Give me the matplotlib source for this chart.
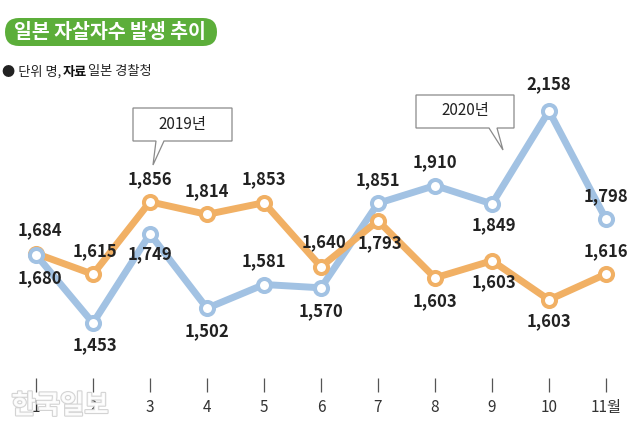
import matplotlib
matplotlib.use("Agg")
import matplotlib.pyplot as plt
from matplotlib.patches import FancyBboxPatch, Polygon
import matplotlib.patheffects as pe

plt.rcParams['font.family'] = ['Noto Sans CJK KR', 'DejaVu Sans']

# ---- data ----
months = [1, 2, 3, 4, 5, 6, 7, 8, 9, 10, 11]
tick_labels = ['1', '2', '3', '4', '5', '6', '7', '8', '9', '10', '11월']
values_2019 = [1684, 1615, 1856, 1814, 1853, 1640, 1793, 1603, 1660, 1530, 1616]
labels_2019 = ['1,684', '1,615', '1,856', '1,814', '1,853', '1,640', '1,793',
               '1,603', '1,603', '1,603', '1,616']
values_2020 = [1680, 1453, 1749, 1502, 1581, 1570, 1851, 1910, 1849, 2158, 1798]
labels_2020 = ['1,680', '1,453', '1,749', '1,502', '1,581', '1,570', '1,851',
               '1,910', '1,849', '2,158', '1,798']

title = '일본 자살자수 발생 추이'
series_names = ['2019년', '2020년']

# ---- layout (label offsets in pixels) ----
off_2019 = [(4, 23), (2, 23), (0, 23), (0, 23), (0, 23), (3, 25), (2, -22),
            (0, -23), (2, -21), (0, -21), (0, 23)]
off_2020 = [(4, -23), (2, -22), (0, -20), (0, -23), (0, 23), (0, -23), (0, 23),
            (0, 23), (2, -21), (0, 27), (0, 23)]

ORANGE = '#F1B064'
BLUE = '#A2C2E3'
GREEN = '#5CAE3A'

W, H = 640, 434
fig = plt.figure(figsize=(W / 100, H / 100), dpi=100)
fig.patch.set_facecolor('white')

tick_px = 384.5
ax = fig.add_axes([0, (H - tick_px) / H, 1, tick_px / H])
ax.set_facecolor('none')
px_per_unit = 3.325
ax.set_ylim(1453 - (tick_px - 323) * px_per_unit, 1453 + 323 * px_per_unit)
ax.set_xlim(1 - 36 / 57, 11 + 34 / 57)
for s in ax.spines.values():
    s.set_visible(False)
ax.set_yticks([])
ax.set_xticks(months)
ax.set_xticklabels(tick_labels)
ax.tick_params(axis='x', direction='inout', length=9.4, width=0.9, color='#555555',
               pad=6, labelsize=11, labelcolor='#333333')

lw = 5
ms = 9.4
mew = 2.9
ax.plot(months, values_2020, color=BLUE, lw=lw, zorder=2, solid_joinstyle='round')
ax.plot(months, values_2019, color=ORANGE, lw=lw, zorder=3, solid_joinstyle='round')
ax.plot(months, values_2019, ls='none', marker='o', ms=ms, mfc='white', mec=ORANGE,
        mew=mew, zorder=4)
ax.plot(months, values_2020, ls='none', marker='o', ms=ms, mfc='white', mec=BLUE,
        mew=mew, zorder=5)

for x, v, t, (dx, dy) in zip(months, values_2019, labels_2019, off_2019):
    ax.annotate(t, (x, v), xytext=(dx, dy), textcoords='offset pixels', ha='center',
                va='center', fontsize=12, fontweight='bold', color='#222222', zorder=6)
for x, v, t, (dx, dy) in zip(months, values_2020, labels_2020, off_2020):
    ax.annotate(t, (x, v), xytext=(dx, dy), textcoords='offset pixels', ha='center',
                va='center', fontsize=12, fontweight='bold', color='#222222', zorder=6)

# ---- decorations in pixel coordinates ----
tr = fig.dpi_scale_trans


def P(x, y):
    return (x / 100, (H - y) / 100)


box = FancyBboxPatch(P(5, 46), 2.12, 0.28, boxstyle='round,pad=0,rounding_size=0.14',
                     transform=tr, facecolor=GREEN, edgecolor='none')
fig.patches.append(box)
fig.text(*P(110, 32), title, transform=tr, ha='center', va='center', fontsize=14,
         fontweight='bold', color='white')

fig.text(*P(2, 72), '● 단위 명,', transform=tr, ha='left', va='center', fontsize=9.5,
         color='#222222')
fig.text(*P(63, 72), '자료', transform=tr, ha='left', va='center', fontsize=9.5,
         fontweight='bold', color='#111111')
fig.text(*P(88, 72), '일본 경찰청', transform=tr, ha='left', va='center', fontsize=9.5,
         color='#222222')

call1 = [(133, 108), (232, 108), (232, 141), (164, 141), (153, 165), (156, 141), (133, 141)]
call2 = [(416, 95), (514, 95), (514, 128), (497, 128), (503, 150), (489, 128), (416, 128)]
for pts, name, c in [(call1, series_names[0], (182, 124)), (call2, series_names[1], (465, 111))]:
    poly = Polygon([P(x, y) for x, y in pts], closed=True, transform=tr,
                   facecolor='white', edgecolor='#8a8a8a', lw=0.9, zorder=7)
    fig.patches.append(poly)
    fig.text(*P(*c), name, transform=tr, ha='center', va='center', fontsize=11,
             color='#222222', zorder=8)

fig.text(*P(60, 406), '한국일보', transform=tr, ha='center', va='center', fontsize=19,
         fontweight='bold', color='white', alpha=0.9,
         path_effects=[pe.withStroke(linewidth=1.6, foreground='#cfcfcf')], zorder=1)

fig.savefig('out.png', dpi=100)
